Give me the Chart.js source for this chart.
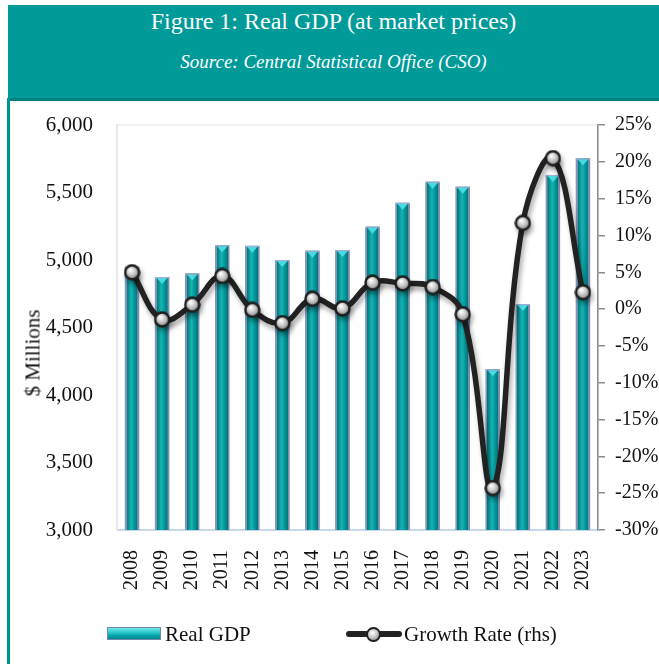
<!DOCTYPE html>
<html>
<head>
<meta charset="utf-8">
<script src="https://cdn.jsdelivr.net/npm/chart.js@4.4.0/dist/chart.umd.min.js"></script>
<style>
html, body { margin: 0; padding: 0; background: #fff; }
body { width: 659px; height: 664px; position: relative; overflow: hidden; font-family: 'Liberation Serif', serif; color: #111; }
#wrap { position: absolute; left: 0; top: 0; width: 659px; height: 664px; }
#head { position: absolute; left: 8px; top: 5px; width: 651px; height: 93px; background: #009a99; border-bottom: 3px solid #00807f; color: #fff; text-align: center; z-index: 2; }
#head .t { position: absolute; top: 3px; width: 100%; font-size: 24px; }
#head .s { position: absolute; top: 46px; width: 100%; font-size: 19px; font-style: italic; }
#edge { position: absolute; left: 7px; top: 98px; width: 3px; height: 566px; background: #00928f; z-index: 2; }
#ytitle { position: absolute; left: 33px; top: 353px; transform: translate(-50%, -50%) rotate(-90deg); font-size: 21px; white-space: nowrap; }
.lg { position: absolute; top: 622px; font-size: 21px; white-space: nowrap; }
#lgBar { position: absolute; left: 107px; top: 627px; width: 52px; height: 11px; border: 1px solid #7489b0;
  background: linear-gradient(to bottom, #6fe6ea 0%, #2cc9cd 40%, #03a4a8 70%, #04878b 100%); }
#lgLine { position: absolute; left: 346px; top: 631px; width: 56px; height: 6px; background: #222; border-radius: 3px; }
#lgDot { position: absolute; left: 366px; top: 627px; width: 11px; height: 11px; border-radius: 50%; border: 2px solid #1e1e1e;
  background: radial-gradient(circle at 40% 35%, #fff 0%, #c4c4c4 50%, #6e6e6e 100%); }
</style>
</head>
<body>
<div id="wrap"><canvas id="chart"></canvas></div>
<div id="head">
  <div class="t">Figure 1: Real GDP (at market prices)</div>
  <div class="s">Source: Central Statistical Office (CSO)</div>
</div>
<div id="edge"></div>
<div id="ytitle">$ Millions</div>
<div id="lgBar"></div><div class="lg" style="left:165px">Real GDP</div>
<div id="lgLine"></div><div id="lgDot"></div><div class="lg" style="left:404px">Growth Rate (rhs)</div>
<script>
const years = ['2008', '2009', '2010', '2011', '2012', '2013', '2014', '2015',
               '2016', '2017', '2018', '2019', '2020', '2021', '2022', '2023']
const realGDP = [4950, 4874, 4900, 5110, 5105, 5000, 5069, 5074,
                 5247, 5424, 5580, 5543, 4190, 4674, 5630, 5753]
const growthRate = [5.0, -1.4, 0.6, 4.5, -0.1, -1.9, 1.4, 0.1,
                    3.6, 3.5, 3.0, -0.7, -24.3, 11.7, 20.5, 2.3]
const gdpMin = 3000, gdpMax = 6000, gdpStep = 500
const rateMin = -30, rateMax = 25, rateStep = 5

Chart.defaults.font.family = "'Liberation Serif', serif"
Chart.defaults.color = '#111'

// grey ball marker for the growth line
function makeSphere(d) {
    const c = document.createElement('canvas')
    c.width = c.height = d
    const g = c.getContext('2d')
    const r = d / 2
    const grad = g.createRadialGradient(r * 0.8, r * 0.7, 0.5, r, r, r)
    grad.addColorStop(0, '#ffffff')
    grad.addColorStop(0.45, '#c8c8c8')
    grad.addColorStop(1, '#6a6a6a')
    g.beginPath()
    g.arc(r, r, r - 1.5, 0, Math.PI * 2)
    g.fillStyle = grad
    g.fill()
    g.lineWidth = 2.4
    g.strokeStyle = '#1e1e1e'
    g.stroke()
    return c
}

const decor = {
    id: 'decor',
    beforeDraw(chart) {
        const a = chart.chartArea, ctx = chart.ctx
        ctx.save()
        ctx.strokeStyle = '#ececec'
        ctx.lineWidth = 1.5
        ctx.strokeRect(a.left, a.top, a.right - a.left, a.bottom - a.top)
        ctx.restore()
    },
    beforeDatasetDraw(chart, args) {
        if (args.meta.type === 'line') {
            const ctx = chart.ctx
            ctx.save()
            ctx.shadowColor = 'rgba(0,0,0,0.35)'
            ctx.shadowBlur = 5
            ctx.shadowOffsetX = 2
            ctx.shadowOffsetY = 4
        }
    },
    afterDatasetDraw(chart, args) {
        const ctx = chart.ctx
        if (args.meta.type === 'line') {
            ctx.restore()
            return
        }
        const area = chart.chartArea
        // bevel shading on top of the library's bars
        args.meta.data.forEach(el => {
            const p = el.getProps(['x', 'y', 'base', 'width'], true)
            const l = p.x - p.width / 2, r = p.x + p.width / 2
            const t = Math.max(Math.min(p.y, p.base), area.top)
            const b = Math.min(Math.max(p.y, p.base), area.bottom)
            const g = ctx.createLinearGradient(l, 0, r, 0)
            g.addColorStop(0, '#8296ba')
            g.addColorStop(0.12, '#8296ba')
            g.addColorStop(0.13, '#02777a')
            g.addColorStop(0.45, '#17b4b4')
            g.addColorStop(0.6, '#05a0a2')
            g.addColorStop(0.87, '#027679')
            g.addColorStop(0.88, '#7a8eb2')
            g.addColorStop(1, '#7a8eb2')
            ctx.save()
            ctx.fillStyle = g
            ctx.fillRect(l, t, p.width, b - t)
            ctx.beginPath()
            ctx.moveTo(l + 2, t + 1)
            ctx.lineTo(r - 2, t + 1)
            ctx.lineTo(p.x, t + 7)
            ctx.closePath()
            ctx.fillStyle = '#48dbe2'
            ctx.fill()
            ctx.fillStyle = '#9fb0d0'
            ctx.fillRect(l, t, p.width, 1.2)
            ctx.restore()
        })
    }
}

new Chart(document.getElementById('chart'), {
    data: {
        labels: years,
        datasets: [
            {
                type: 'line',
                label: 'Growth Rate (rhs)',
                data: growthRate,
                yAxisID: 'y1',
                borderColor: '#222',
                borderWidth: 5.5,
                tension: 0.4,
                pointStyle: makeSphere(17),
                order: 0
            },
            {
                type: 'bar',
                label: 'Real GDP',
                data: realGDP,
                yAxisID: 'y',
                backgroundColor: '#00999a',
                borderColor: '#7a8eb2',
                borderWidth: 1,
                barPercentage: 0.48,
                categoryPercentage: 1,
                order: 1
            }
        ]
    },
    options: {
        responsive: true,
        maintainAspectRatio: false,
        animation: false,
        layout: { padding: { top: 125, left: 0, right: 0, bottom: 0 } },
        plugins: { legend: { display: false }, tooltip: { enabled: false } },
        scales: {
            x: {
                grid: { display: false },
                border: { display: true, color: '#c7d7ec', width: 2 },
                ticks: { minRotation: 90, maxRotation: 90, padding: 12, font: { size: 20 } },
                afterFit(s) { s.height = 134 }
            },
            y: {
                position: 'left',
                min: gdpMin,
                max: gdpMax,
                grid: { display: false },
                border: { display: true, color: '#e6e6e6', width: 1.5 },
                ticks: {
                    stepSize: gdpStep,
                    padding: 16,
                    font: { size: 21 },
                    callback: v => v.toLocaleString('en-US')
                },
                afterFit(s) { s.width = 117 }
            },
            y1: {
                position: 'right',
                min: rateMin,
                max: rateMax,
                grid: { drawOnChartArea: false, drawTicks: true, tickLength: 7, color: '#8a8a8a', lineWidth: 1.5 },
                border: { display: true, color: '#8a8a8a', width: 1.5 },
                ticks: {
                    stepSize: rateStep,
                    padding: 10,
                    font: { size: 20 },
                    callback: v => v + '%'
                },
                afterFit(s) { s.width = 61 }
            }
        }
    },
    plugins: [decor]
})
</script>
</body>
</html>
